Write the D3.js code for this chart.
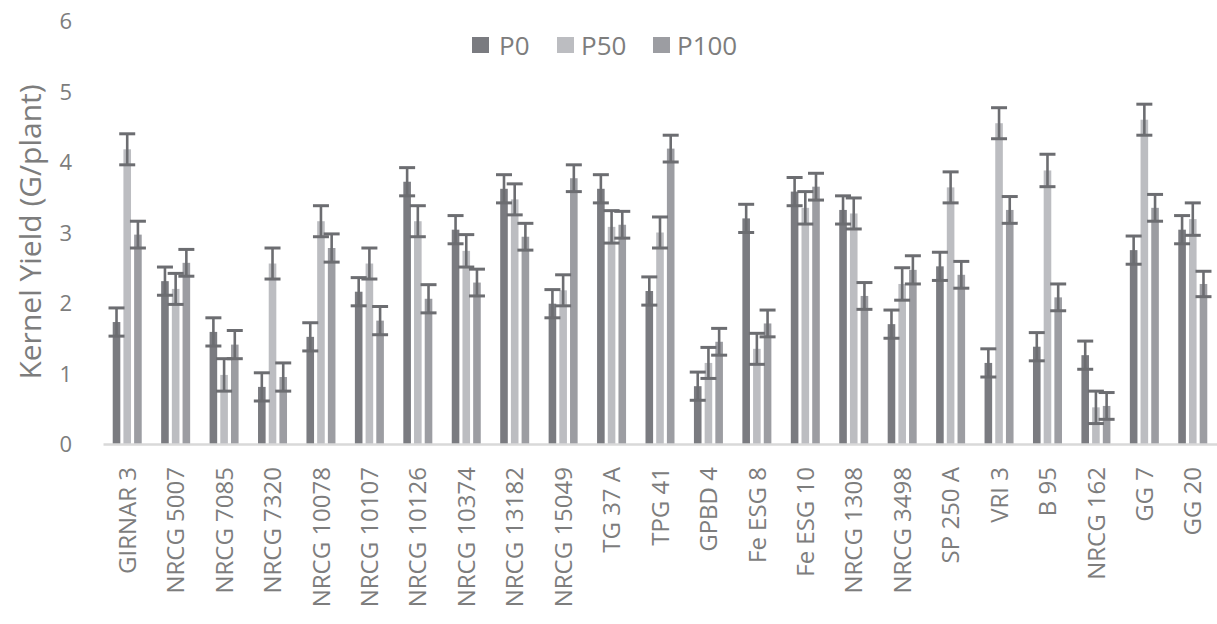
<!DOCTYPE html>
<html>
<head>
<meta charset="utf-8">
<script src="https://cdn.jsdelivr.net/npm/d3@7"></script>
<style>
  html, body { margin: 0; padding: 0; background: #ffffff; }
  svg { display: block; }
  text { font-family: "Open Sans", "Noto Sans", sans-serif; fill: #7d7d7d; }
</style>
</head>
<body>
<svg id="chart" width="1217" height="624"></svg>
<script>
const categories = ["GIRNAR 3","NRCG 5007","NRCG 7085","NRCG 7320","NRCG 10078","NRCG 10107","NRCG 10126","NRCG 10374","NRCG 13182","NRCG 15049","TG 37 A","TPG 41","GPBD 4","Fe ESG 8","Fe ESG 10","NRCG 1308","NRCG 3498","SP 250 A","VRI 3","B 95","NRCG 162","GG 7","GG 20"];
const seriesNames = ["P0","P50","P100"];
const p0   = [1.73,2.31,1.59,0.81,1.52,2.16,3.72,3.04,3.62,1.99,3.62,2.17,0.82,3.20,3.58,3.32,1.70,2.52,1.15,1.38,1.26,2.75,3.04];
const p50  = [4.18,2.20,0.98,2.56,3.16,2.56,3.16,2.74,3.47,2.18,3.08,3.00,1.15,1.35,3.35,3.27,2.27,3.64,4.55,3.88,0.52,4.60,3.19];
const p100 = [2.97,2.57,1.41,0.95,2.78,1.75,2.06,2.29,2.94,3.77,3.11,4.19,1.45,1.71,3.65,2.10,2.47,2.40,3.32,2.08,0.54,3.35,2.27];
const errP0   = [0.20,0.20,0.20,0.20,0.20,0.20,0.20,0.20,0.20,0.20,0.20,0.20,0.20,0.20,0.20,0.20,0.20,0.20,0.20,0.20,0.20,0.20,0.20];
const errP50  = [0.22,0.22,0.23,0.22,0.22,0.22,0.22,0.23,0.22,0.22,0.23,0.22,0.22,0.22,0.23,0.22,0.23,0.22,0.22,0.23,0.23,0.22,0.23];
const errP100 = [0.19,0.19,0.20,0.20,0.20,0.20,0.20,0.19,0.19,0.19,0.19,0.19,0.19,0.19,0.19,0.19,0.20,0.19,0.19,0.19,0.19,0.19,0.18];
const yTicks = [0,1,2,3,4,5,6];
const yTitle = "Kernel Yield (G/plant)";

const seriesValues = [p0, p50, p100];
const seriesErrors = [errP0, errP50, errP100];
const colors = ["#7a7b80", "#bcbdc1", "#9c9da2"];
const errColor = "#6c6d71";

const svg = d3.select("#chart");

const x = d3.scaleBand().domain(categories).range([103, 1217]).padding(0);
const xi = d3.scaleBand().domain(seriesNames).range([-14.5, 14.5]).paddingInner(0.29).paddingOuter(0);
const y = d3.scaleLinear().domain([0, 6]).range([444, 21]);

// y tick labels
const yAxis = d3.axisLeft(y).tickValues(yTicks).tickSize(0).tickPadding(0).tickFormat(d3.format("d"));
const gy = svg.append("g").attr("transform", "translate(72,0)").call(yAxis);
gy.select(".domain").remove();
gy.selectAll("text").style("font-size", "22px").attr("fill", "#7d7d7d").attr("x", 0).attr("dy", "0.35em");

// y title
svg.append("text")
  .attr("transform", "translate(29,232) rotate(-90)")
  .attr("text-anchor", "middle")
  .attr("dominant-baseline", "central")
  .style("font-size", "30px")
  .text(yTitle);

// bars
const groups = svg.append("g").selectAll("g.grp")
  .data(categories)
  .join("g")
  .attr("class", "grp")
  .attr("transform", d => `translate(${x(d) + x.bandwidth() / 2},0)`);

groups.each(function (cat, ci) {
  const g = d3.select(this);
  seriesNames.forEach((s, si) => {
    const v = seriesValues[si][ci];
    g.append("rect")
      .attr("x", xi(s))
      .attr("width", xi.bandwidth())
      .attr("y", y(v))
      .attr("height", y(0) - y(v))
      .attr("fill", colors[si]);
  });
});

// x axis line + labels
const xAxis = d3.axisBottom(x).tickSize(0).tickPadding(0);
const gx = svg.append("g").attr("transform", "translate(0,444)").call(xAxis);
gx.select(".domain").attr("stroke", "#d9d9d9").attr("stroke-width", 2.5);
gx.selectAll("text")
  .style("font-size", "24px")
  .attr("fill", "#7d7d7d")
  .attr("transform", "rotate(-90)")
  .attr("text-anchor", "end")
  .attr("x", -23)
  .attr("y", 0)
  .attr("dy", "0.36em");

// error bars
groups.each(function (cat, ci) {
  const g = d3.select(this);
  seriesNames.forEach((s, si) => {
    const v = seriesValues[si][ci];
    const e = seriesErrors[si][ci];
    const cx = xi(s) + xi.bandwidth() / 2;
    g.append("line")
      .attr("x1", cx).attr("x2", cx)
      .attr("y1", y(v + e)).attr("y2", y(v - e))
      .attr("stroke", errColor).attr("stroke-width", 2.6);
    [v + e, v - e].forEach(t => {
      g.append("line")
        .attr("x1", cx - 8).attr("x2", cx + 8)
        .attr("y1", y(t)).attr("y2", y(t))
        .attr("stroke", errColor).attr("stroke-width", 3);
    });
  });
});

// legend
const legendItems = [
  { name: "P0", sx: 472, tx: 499 },
  { name: "P50", sx: 557, tx: 581 },
  { name: "P100", sx: 653, tx: 677 }
];
const lg = svg.append("g");
legendItems.forEach((it, i) => {
  lg.append("rect").attr("x", it.sx).attr("y", 37).attr("width", 17).attr("height", 16).attr("fill", colors[i]);
  lg.append("text").attr("x", it.tx).attr("y", 45).attr("dominant-baseline", "central")
    .style("font-size", "26px").text(seriesNames[i]);
});
</script>
</body>
</html>
